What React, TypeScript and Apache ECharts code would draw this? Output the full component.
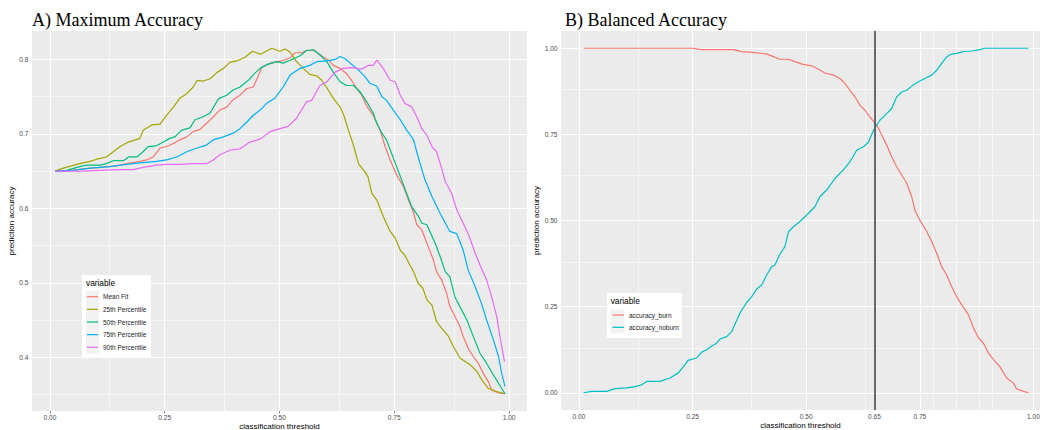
import React, { useEffect, useRef } from "react";
import * as echarts from "echarts";

// ---------- Panel A data: [threshold, accuracy] ----------
const meanFit: number[][] = [[0.011,0.650],[0.036,0.650],[0.073,0.653],[0.109,0.655],[0.145,0.657],[0.167,0.660],[0.196,0.663],[0.211,0.665],[0.225,0.669],[0.240,0.681],[0.254,0.683],[0.269,0.687],[0.283,0.692],[0.298,0.696],[0.312,0.703],[0.327,0.706],[0.341,0.714],[0.356,0.723],[0.370,0.732],[0.385,0.736],[0.399,0.746],[0.414,0.752],[0.429,0.761],[0.443,0.763],[0.454,0.778],[0.461,0.789],[0.472,0.793],[0.487,0.796],[0.505,0.798],[0.523,0.802],[0.534,0.809],[0.548,0.809],[0.559,0.812],[0.574,0.812],[0.585,0.808],[0.596,0.803],[0.607,0.799],[0.617,0.792],[0.632,0.788],[0.646,0.781],[0.657,0.772],[0.668,0.761],[0.679,0.752],[0.690,0.737],[0.704,0.725],[0.719,0.705],[0.730,0.683],[0.741,0.665],[0.755,0.645],[0.770,0.629],[0.781,0.611],[0.792,0.594],[0.799,0.578],[0.810,0.571],[0.821,0.553],[0.835,0.531],[0.842,0.515],[0.853,0.504],[0.864,0.486],[0.871,0.468],[0.882,0.455],[0.893,0.441],[0.900,0.428],[0.911,0.412],[0.922,0.401],[0.933,0.392],[0.944,0.378],[0.955,0.367],[0.962,0.356],[0.977,0.352],[0.991,0.351]];

const p25: number[][] = [[0.011,0.650],[0.029,0.654],[0.058,0.659],[0.087,0.663],[0.102,0.666],[0.123,0.669],[0.138,0.676],[0.153,0.683],[0.171,0.689],[0.196,0.694],[0.203,0.705],[0.222,0.712],[0.240,0.713],[0.254,0.725],[0.269,0.736],[0.283,0.748],[0.298,0.754],[0.312,0.763],[0.321,0.772],[0.334,0.771],[0.349,0.774],[0.363,0.782],[0.378,0.788],[0.392,0.796],[0.407,0.798],[0.425,0.803],[0.441,0.811],[0.459,0.807],[0.483,0.815],[0.501,0.811],[0.512,0.814],[0.523,0.810],[0.537,0.797],[0.552,0.788],[0.566,0.780],[0.581,0.778],[0.592,0.772],[0.603,0.762],[0.617,0.748],[0.632,0.736],[0.640,0.725],[0.650,0.705],[0.661,0.685],[0.672,0.660],[0.686,0.649],[0.693,0.642],[0.701,0.620],[0.712,0.611],[0.726,0.589],[0.741,0.569],[0.752,0.560],[0.763,0.544],[0.773,0.537],[0.784,0.524],[0.792,0.515],[0.802,0.499],[0.812,0.493],[0.821,0.477],[0.832,0.470],[0.842,0.448],[0.853,0.439],[0.868,0.428],[0.879,0.414],[0.893,0.399],[0.915,0.390],[0.930,0.381],[0.940,0.370],[0.955,0.358],[0.973,0.354],[0.991,0.351]];

const p50: number[][] = [[0.011,0.650],[0.036,0.651],[0.065,0.656],[0.080,0.658],[0.109,0.658],[0.123,0.660],[0.138,0.664],[0.160,0.664],[0.171,0.669],[0.189,0.669],[0.203,0.676],[0.214,0.683],[0.232,0.684],[0.247,0.689],[0.261,0.694],[0.272,0.696],[0.287,0.705],[0.305,0.708],[0.316,0.719],[0.334,0.723],[0.349,0.728],[0.367,0.747],[0.385,0.752],[0.399,0.759],[0.414,0.763],[0.432,0.772],[0.447,0.782],[0.458,0.788],[0.472,0.793],[0.494,0.797],[0.508,0.795],[0.523,0.799],[0.545,0.805],[0.559,0.812],[0.574,0.813],[0.588,0.806],[0.603,0.797],[0.617,0.783],[0.632,0.770],[0.646,0.765],[0.661,0.765],[0.675,0.757],[0.690,0.743],[0.704,0.728],[0.712,0.714],[0.723,0.701],[0.733,0.692],[0.744,0.674],[0.755,0.656],[0.766,0.638],[0.777,0.620],[0.788,0.602],[0.802,0.590],[0.810,0.580],[0.821,0.578],[0.839,0.553],[0.850,0.535],[0.861,0.515],[0.871,0.508],[0.882,0.481],[0.893,0.468],[0.908,0.450],[0.922,0.428],[0.937,0.405],[0.951,0.392],[0.966,0.376],[0.980,0.362],[0.991,0.351]];

const p75: number[][] = [[0.011,0.650],[0.051,0.651],[0.087,0.654],[0.131,0.656],[0.167,0.659],[0.196,0.661],[0.232,0.663],[0.254,0.665],[0.276,0.669],[0.298,0.676],[0.320,0.681],[0.341,0.685],[0.356,0.692],[0.378,0.696],[0.399,0.701],[0.414,0.707],[0.429,0.716],[0.443,0.725],[0.458,0.732],[0.472,0.741],[0.490,0.748],[0.508,0.763],[0.523,0.779],[0.545,0.788],[0.566,0.792],[0.581,0.797],[0.603,0.798],[0.621,0.800],[0.632,0.804],[0.643,0.801],[0.654,0.795],[0.668,0.788],[0.686,0.777],[0.697,0.768],[0.712,0.764],[0.723,0.750],[0.733,0.745],[0.748,0.732],[0.763,0.719],[0.777,0.705],[0.792,0.692],[0.802,0.669],[0.817,0.638],[0.832,0.616],[0.850,0.593],[0.871,0.569],[0.886,0.566],[0.900,0.544],[0.911,0.517],[0.926,0.495],[0.940,0.472],[0.951,0.450],[0.966,0.423],[0.977,0.401],[0.984,0.378],[0.991,0.361]];

const p90: number[][] = [[0.011,0.650],[0.073,0.650],[0.109,0.651],[0.145,0.652],[0.181,0.652],[0.203,0.655],[0.232,0.658],[0.254,0.659],[0.283,0.659],[0.312,0.660],[0.341,0.660],[0.356,0.665],[0.370,0.672],[0.392,0.678],[0.414,0.680],[0.436,0.689],[0.458,0.693],[0.479,0.703],[0.501,0.707],[0.519,0.710],[0.537,0.721],[0.559,0.743],[0.570,0.745],[0.588,0.765],[0.603,0.770],[0.621,0.783],[0.639,0.788],[0.657,0.789],[0.679,0.787],[0.693,0.792],[0.704,0.792],[0.712,0.799],[0.726,0.788],[0.741,0.772],[0.752,0.770],[0.763,0.752],[0.773,0.741],[0.788,0.736],[0.799,0.723],[0.810,0.707],[0.821,0.698],[0.832,0.683],[0.842,0.676],[0.853,0.654],[0.861,0.636],[0.875,0.620],[0.886,0.598],[0.893,0.589],[0.911,0.566],[0.926,0.540],[0.940,0.519],[0.951,0.504],[0.962,0.481],[0.973,0.455],[0.980,0.428],[0.990,0.394]];

// ---------- Panel B data ----------
const accBurn: number[][] = [[0.010,1.0],[0.250,1.0],[0.270,0.996],[0.340,0.996],[0.357,0.990],[0.383,0.988],[0.413,0.983],[0.431,0.974],[0.442,0.968],[0.461,0.968],[0.475,0.961],[0.493,0.953],[0.512,0.949],[0.527,0.939],[0.541,0.928],[0.560,0.922],[0.574,0.912],[0.585,0.898],[0.596,0.878],[0.607,0.859],[0.618,0.835],[0.629,0.820],[0.640,0.801],[0.655,0.777],[0.666,0.748],[0.677,0.719],[0.688,0.685],[0.699,0.656],[0.710,0.632],[0.721,0.608],[0.732,0.569],[0.739,0.530],[0.750,0.501],[0.765,0.468],[0.776,0.439],[0.787,0.405],[0.798,0.366],[0.809,0.342],[0.820,0.308],[0.831,0.279],[0.842,0.255],[0.857,0.226],[0.868,0.188],[0.879,0.159],[0.890,0.144],[0.901,0.115],[0.912,0.096],[0.926,0.076],[0.941,0.043],[0.956,0.028],[0.963,0.011],[0.978,0.004],[0.989,0.0]];

const accNoburn: number[][] = [[0.010,0.0],[0.028,0.004],[0.061,0.004],[0.079,0.012],[0.105,0.014],[0.123,0.018],[0.138,0.023],[0.149,0.033],[0.178,0.033],[0.200,0.043],[0.218,0.057],[0.230,0.076],[0.240,0.094],[0.259,0.101],[0.270,0.118],[0.281,0.125],[0.292,0.136],[0.303,0.144],[0.310,0.156],[0.325,0.163],[0.336,0.178],[0.354,0.231],[0.369,0.262],[0.380,0.279],[0.391,0.301],[0.402,0.313],[0.413,0.342],[0.424,0.366],[0.431,0.371],[0.442,0.402],[0.453,0.424],[0.461,0.468],[0.472,0.482],[0.486,0.497],[0.501,0.516],[0.519,0.540],[0.530,0.569],[0.548,0.593],[0.563,0.622],[0.581,0.646],[0.596,0.670],[0.611,0.704],[0.626,0.714],[0.637,0.728],[0.648,0.762],[0.662,0.791],[0.677,0.810],[0.688,0.825],[0.699,0.859],[0.710,0.873],[0.721,0.878],[0.735,0.893],[0.746,0.902],[0.761,0.912],[0.776,0.922],[0.787,0.936],[0.798,0.956],[0.809,0.975],[0.820,0.983],[0.831,0.985],[0.845,0.990],[0.864,0.992],[0.882,0.996],[0.893,1.0],[0.989,1.0]];

const cutoff = 0.65;

// ---------- ticks / gridlines ----------
const aXTicks = [0, 0.25, 0.5, 0.75, 1];
const aXMinor = [0.125, 0.375, 0.625, 0.875];
const aYTicks = [0.4, 0.5, 0.6, 0.7, 0.8];
const aYMinor = [0.35, 0.45, 0.55, 0.65, 0.75];
const bXTicks = [0, 0.25, 0.5, 0.65, 0.75, 1];
const bXMinor = [0.125, 0.375, 0.625, 0.78, 0.83, 0.875, 0.905];
const bYTicks = [0, 0.25, 0.5, 0.75, 1];
const bYMinor = [0.125, 0.375, 0.625, 0.875];

const seriesNamesA = ["Mean Fit", "25th Percentile", "50th Percentile", "75th Percentile", "90th Percentile"];
const seriesDataA = [meanFit, p25, p50, p75, p90];
const colorsA = ["#F8766D", "#A3A500", "#00BF7D", "#00B0F6", "#E76BF3"];
const seriesNamesB = ["accuracy_burn", "accuracy_noburn"];
const seriesDataB = [accBurn, accNoburn];
const colorsB = ["#F8766D", "#00BFC4"];

const SANS = "Liberation Sans";
const SERIF = "Liberation Serif";

function gridLines(idx: number, mx: number[], nx: number[], my: number[], ny: number[]) {
  const major = { color: "#FFFFFF", width: 1.1, type: "solid" };
  const minor = { color: "#FFFFFF", width: 0.55, type: "solid" };
  return {
    type: "line",
    name: "grid" + idx,
    xAxisIndex: idx,
    yAxisIndex: idx,
    data: [],
    z: 1,
    silent: true,
    markLine: {
      z: 1,
      silent: true,
      symbol: ["none", "none"],
      label: { show: false },
      emphasis: { disabled: true },
      data: [
        ...nx.map((v) => ({ xAxis: v, lineStyle: minor })),
        ...ny.map((v) => ({ yAxis: v, lineStyle: minor })),
        ...mx.map((v) => ({ xAxis: v, lineStyle: major })),
        ...my.map((v) => ({ yAxis: v, lineStyle: major })),
      ],
    },
  };
}

function axisX(idx: number, min: number, max: number, ticks: number[]) {
  return {
    type: "value",
    gridIndex: idx,
    min,
    max,
    name: "classification threshold",
    nameLocation: "middle",
    nameGap: 11,
    nameMoveOverlap: false,
    nameTextStyle: { fontFamily: SANS, fontSize: 8, color: "#000", verticalAlign: "top" },
    axisLine: { show: false },
    splitLine: { show: false },
    axisTick: { show: true, customValues: ticks, length: 2.5, lineStyle: { color: "#333", width: 0.6 } },
    axisLabel: {
      customValues: ticks,
      formatter: (v: number) => v.toFixed(2),
      fontFamily: SANS,
      fontSize: 6.6,
      color: "#4D4D4D",
      margin: 3,
    },
  };
}

function axisY(idx: number, min: number, max: number, ticks: number[], digits: number, gap: number) {
  return {
    type: "value",
    gridIndex: idx,
    min,
    max,
    name: "prediction accuracy",
    nameLocation: "middle",
    nameGap: gap,
    nameTextStyle: { fontFamily: SANS, fontSize: 8, color: "#000" },
    axisLine: { show: false },
    splitLine: { show: false },
    axisTick: { show: true, customValues: ticks, length: 2.5, lineStyle: { color: "#333", width: 0.6 } },
    axisLabel: {
      customValues: ticks,
      formatter: (v: number) => v.toFixed(digits),
      fontFamily: SANS,
      fontSize: 6.6,
      color: "#4D4D4D",
      margin: 3.5,
    },
  };
}

function legendCfg(names: string[], left: number, top: number, gap: number, w: number) {
  return {
    data: names,
    orient: "vertical",
    left,
    top,
    padding: 0,
    icon: "rect",
    itemWidth: w,
    itemHeight: 1.2,
    itemGap: gap,
    selectedMode: false,
    textStyle: { fontFamily: SANS, fontSize: 6.5, color: "#1A1A1A", lineHeight: 10 },
  };
}

export default function App() {
  const ref = useRef<HTMLDivElement>(null);
  useEffect(() => {
    if (!ref.current) return;
    const chart = echarts.init(ref.current, null, { renderer: "svg" });
    const lineSeries = (name: string, data: number[][], color: string, idx: number) => ({
      type: "line",
      name,
      data,
      xAxisIndex: idx,
      yAxisIndex: idx,
      symbol: "none",
      showSymbol: false,
      z: 2,
      lineStyle: { color, width: 1.2 },
      itemStyle: { color },
      emphasis: { disabled: true },
    });
    const option: any = {
      animation: false,
      backgroundColor: "#FFFFFF",
      title: [
        { text: "A) Maximum Accuracy", left: 32, top: 11, padding: 0, textStyle: { fontFamily: SERIF, fontSize: 18, fontWeight: "normal", color: "#000" } },
        { text: "B) Balanced Accuracy", left: 565, top: 11, padding: 0, textStyle: { fontFamily: SERIF, fontSize: 18, fontWeight: "normal", color: "#000" } },
      ],
      grid: [
        { left: 32, top: 31, width: 495, height: 380, show: true, backgroundColor: "#EBEBEB", borderWidth: 0, outerBoundsMode: "none", containLabel: false },
        { left: 561, top: 31, width: 479, height: 379, show: true, backgroundColor: "#EBEBEB", borderWidth: 0, outerBoundsMode: "none", containLabel: false },
      ],
      xAxis: [axisX(0, -0.039, 1.039, aXTicks), axisX(1, -0.0396, 1.0143, bXTicks)],
      yAxis: [axisY(0, 0.3278, 0.8382, aYTicks, 1, 14.5), axisY(1, -0.05, 1.05, bYTicks, 2, 15)],
      legend: [
        legendCfg(seriesNamesA, 87, 291.7, 2.65, 11),
        legendCfg(seriesNamesB, 612.5, 310, 2.3, 11.5),
      ],
      graphic: [
        { type: "rect", shape: { x: 82, y: 275, width: 69, height: 82 }, style: { fill: "#FFFFFF" }, z: 3 },
        { type: "rect", shape: { x: 86, y: 290.7, width: 13, height: 63 }, style: { fill: "#F2F2F2" }, z: 3 },
        { type: "text", x: 86, y: 282.7, style: { text: "variable", fontFamily: SANS, fontSize: 8.3, fill: "#000", verticalAlign: "middle" }, z: 3 },
        { type: "rect", shape: { x: 607, y: 293, width: 75, height: 45 }, style: { fill: "#FFFFFF" }, z: 3 },
        { type: "rect", shape: { x: 610.5, y: 309.5, width: 14, height: 24 }, style: { fill: "#F2F2F2" }, z: 3 },
        { type: "text", x: 610.7, y: 301, style: { text: "variable", fontFamily: SANS, fontSize: 8.3, fill: "#000", verticalAlign: "middle" }, z: 3 },
      ],
      series: [
        gridLines(0, aXTicks, aXMinor, aYTicks, aYMinor),
        gridLines(1, bXTicks, bXMinor, bYTicks, bYMinor),
        ...seriesNamesA.map((n, i) => lineSeries(n, seriesDataA[i], colorsA[i], 0)),
        ...seriesNamesB.map((n, i) => lineSeries(n, seriesDataB[i], colorsB[i], 1)),
        {
          type: "line",
          name: "cutoff",
          xAxisIndex: 1,
          yAxisIndex: 1,
          data: [],
          z: 3,
          silent: true,
          markLine: {
            z: 5,
            silent: true,
            symbol: ["none", "none"],
            label: { show: false },
            emphasis: { disabled: true },
            lineStyle: { color: "#5A5A5A", width: 1.8, type: "solid" },
            data: [{ xAxis: cutoff }],
          },
        },
      ],
    };
    chart.setOption(option);
    return () => chart.dispose();
  }, []);
  return <div ref={ref} style={{ position: "absolute", left: 0, top: 0, width: 1040, height: 430 }} />;
}
